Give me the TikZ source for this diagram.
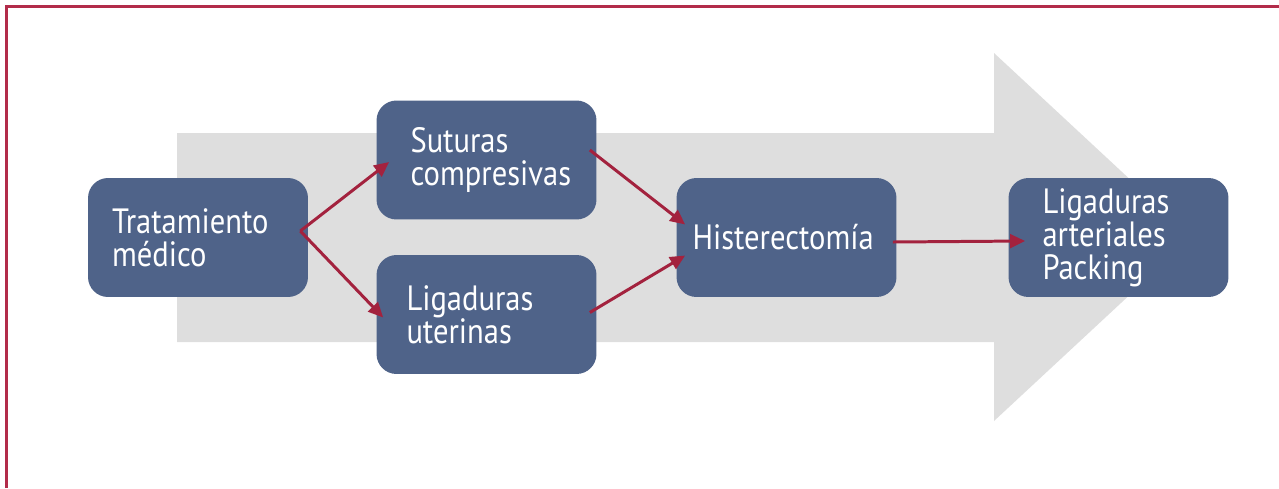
\documentclass[tikz,border=0pt]{standalone}
\usepackage{fontspec}
\setmainfont{PT Sans}[FakeStretch=0.87]
\usepackage{xcolor}
\definecolor{azulcaja}{RGB}{79, 99, 137}
\definecolor{granate}{RGB}{163, 34, 62}
\definecolor{marco}{RGB}{178, 44, 74}
\definecolor{grisflecha}{RGB}{222, 222, 222}
\usetikzlibrary{arrows.meta, positioning}

\tikzset{
  caja/.style={fill=azulcaja, rounded corners=0.4cm, text=white,
    minimum width=4.4cm, minimum height=2.38cm, text width=4.4cm-2*\pgfkeysvalueof{/pgf/inner xsep},
    align=left, inner ysep=0pt, font=\fontsize{20}{18.8}\selectfont},
  flecha/.style={granate, line width=1.7pt, -{Triangle[length=0.3cm, width=0.27cm]}}
}

\begin{document}
\begin{tikzpicture}[x=0.02cm, y=-0.02cm]
  \useasboundingbox (0,0) rectangle (1279,488);

  % Marco
  \draw[marco, line width=1.2pt] (6.5,488) -- (6.5,6.5) -- (1279,6.5);

  % Flecha de fondo
  \fill[grisflecha] (177,133) -- (994,133) -- (994,53) -- (1192,237)
    -- (994,421) -- (994,342) -- (177,342) -- cycle;

  % Cajas
  \node[caja, inner xsep=0.48cm] (trat) at (198,237.5) {Tratamiento\\médico};
  \node[caja, inner xsep=0.68cm] (sut) at (486.5,160) {Suturas\\compresivas};
  \node[caja, inner xsep=0.6cm] (lig) at (486.5,314.5) {Ligaduras\\uterinas};
  \node[caja, inner xsep=0.32cm] (hist) at (786.5,237.5) {Histerectomía};
  \node[caja, inner xsep=0.68cm] (pack) at (1118.5,237.5) {Ligaduras\\arteriales\\Packing};

  % Conectores
  \draw[flecha] ([shift={(-8,-6.5)}]trat.east) -- ([shift={(13,2)}]sut.west);
  \draw[flecha] ([shift={(-8,-6.5)}]trat.east) -- ([shift={(7,3)}]lig.west);
  \draw[flecha] ([shift={(-7,-10)}]sut.east) -- ([shift={(9,-13)}]hist.west);
  \draw[flecha] ([shift={(-7,-2)}]lig.east) -- ([shift={(9,18)}]hist.west);
  \draw[flecha] ([shift={(-4,4.5)}]hist.east) -- ([shift={(17,3.5)}]pack.west);
\end{tikzpicture}
\end{document}
